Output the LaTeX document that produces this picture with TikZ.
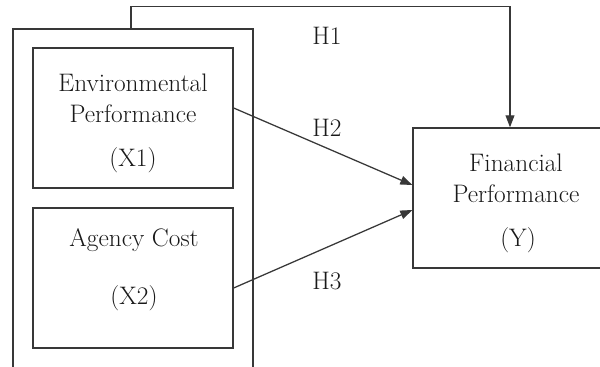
\documentclass[tikz,border=0pt]{standalone}
\usetikzlibrary{arrows.meta}
\definecolor{linegray}{gray}{0.22}
\begin{document}
\begin{tikzpicture}[x=0.025cm, y=-0.025cm,
  box/.style={draw=linegray, line width=0.9pt, minimum width=5cm, minimum height=3.5cm, inner sep=0pt},
  lbl/.style={font=\fontsize{18}{22}\selectfont, anchor=base, inner sep=0pt, text=black!90},
  link/.style={draw=linegray, line width=0.9pt, -{Triangle[length=0.3cm,width=0.22cm]}}]
  \useasboundingbox (0,0) rectangle (600,367);
  \clip (0,0) rectangle (600,367);
  \fill[white] (0,0) rectangle (600,367);

  % outer frame holding the two independent variables
  \node[box, minimum width=6cm, minimum height=9.025cm] (grp) at (133,209.5) {};
  % independent variables
  \node[box] (env) at (133,118) {};
  \node[box] (agc) at (133,278) {};
  % dependent variable
  \node[box] (fin) at (513,198) {};

  \node[lbl] (envA) at (133,92) {Environmental};
  \node[lbl] (envB) at (133,123) {Performance};
  \node[lbl] (envC) at (133,167) {(X1)};
  \node[lbl] (agcA) at (134,247) {Agency Cost};
  \node[lbl] (agcB) at (134,305) {(X2)};
  \node[lbl] (finA) at (516,172) {Financial};
  \node[lbl] (finB) at (516,203) {Performance};
  \node[lbl] (finC) at (518,247) {(Y)};

  % hypotheses
  \draw[link] ([xshift=-0.05cm]grp.north) -- ++(0,-22) -| ([xshift=-0.075cm]fin.north);
  \draw[link] ([yshift=0.25cm]env.east) -- ([yshift=0.325cm]fin.west);
  \draw[link] ([yshift=-0.25cm]agc.east) -- ([yshift=-0.3cm]fin.west);

  \node[lbl] (h1) at (327,45) {H1};
  \node[lbl] (h2) at (327,137) {H2};
  \node[lbl] (h3) at (327,290) {H3};
\end{tikzpicture}
\end{document}
